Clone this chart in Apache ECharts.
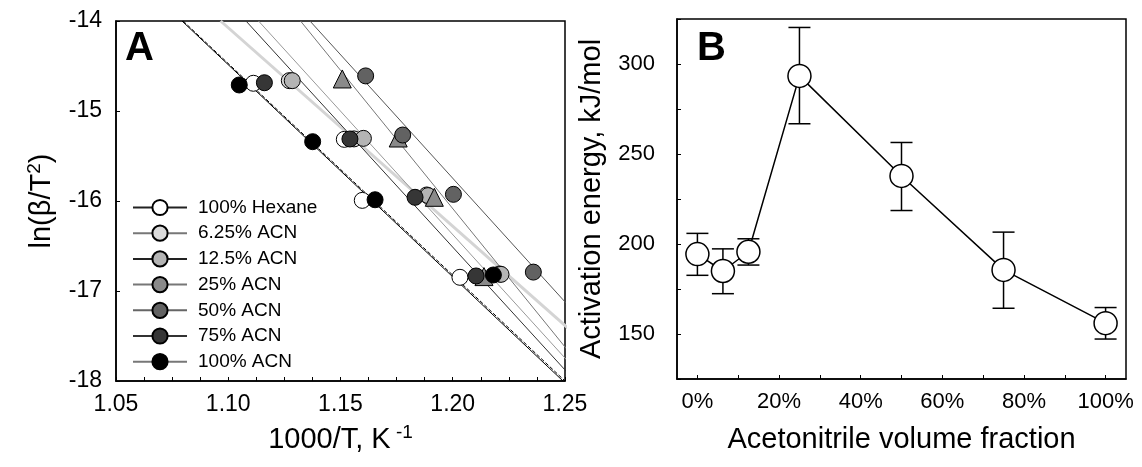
<!DOCTYPE html>
<html><head><meta charset="utf-8">
<script src="https://cdn.jsdelivr.net/npm/echarts@6/dist/echarts.min.js"></script>
<style>html,body{margin:0;padding:0;background:#fff}#c{width:1142px;height:467px}</style>
</head><body><div id="c"></div>
<script>
// ---------- Panel A data: ln(beta/T^2) vs 1000/T ----------
const seriesNames = ['100% Hexane','6.25% ACN','12.5% ACN','25% ACN','50% ACN','75% ACN','100% ACN'];
const hexaneX = [1.1112, 1.1517, 1.1597, 1.2032];
const hexaneY = [-14.692, -15.315, -15.993, -16.848];
const acn625X = [1.1272, 1.1560, 1.1884, 1.2208];
const acn625Y = [-14.663, -15.310, -15.933, -16.811];
const acn125X = [1.1285, 1.1602, 1.1890, 1.2215];
const acn125Y = [-14.663, -15.304, -15.940, -16.815];
const acn25X = [1.1508, 1.1757, 1.1918, 1.2139];
const acn25Y = [-14.644, -15.300, -15.959, -16.840];
const acn50X = [1.1612, 1.1777, 1.2003, 1.2359];
const acn50Y = [-14.610, -15.267, -15.926, -16.790];
const acn75X = [1.1161, 1.1542, 1.1832, 1.2104];
const acn75Y = [-14.686, -15.311, -15.959, -16.833];
const acn100X = [1.1049, 1.1376, 1.1654, 1.2181];
const acn100Y = [-14.711, -15.341, -15.986, -16.822];
// fitted lines: x where each line crosses ln = -14 and ln = -18
const fitTopX    = [1.0966, 1.0794, 1.0799, 1.1079, 1.1135, 1.1322, 1.1364];
const fitBottomX = [1.2780, 1.2491, 1.2500, 1.2545, 1.2593, 1.2623, 1.2820];
const fitYRange = [-14, -18];
const xTickLabelsA = [1.05, 1.10, 1.15, 1.20, 1.25];

// ---------- Panel B data ----------
const fractionX = [0, 0.0625, 0.125, 0.25, 0.5, 0.75, 1.0];
const energy    = [194.4, 185.0, 195.7, 293.4, 237.8, 185.6, 156.0];
const errLow    = [182.6, 172.4, 188.3, 266.8, 218.6, 164.3, 147.2];
const errHigh   = [205.9, 197.3, 202.9, 320.3, 256.4, 206.6, 164.7];
const xTickLabelsB = [0, 0.2, 0.4, 0.6, 0.8, 1.0];
const xMinorTicksB = [0, 0.1, 0.2, 0.3, 0.4, 0.5, 0.6, 0.7, 0.8, 0.9, 1.0];

const FONT = "'Liberation Sans', Arial, sans-serif";
const fills = ['#ffffff','#dadada','#b4b4b4','#8a8a8a','#626262','#363636','#000000'];
const symbols = ['circle','circle','circle','triangle','circle','circle','circle'];
const legendLineColors = ['#222','#777','#222','#777','#666','#333','#777'];
const groupsX = [hexaneX, acn625X, acn125X, acn25X, acn50X, acn75X, acn100X];
const groupsY = [hexaneY, acn625Y, acn125Y, acn25Y, acn50Y, acn75Y, acn100Y];
const fitStyles = [
  {color:'#d4d4d4', width:3, type:'solid'},
  {color:'#000', width:1, type:'solid'},
  {color:'#000', width:1, type:'dashed'},
  {color:'#333', width:1, type:'solid'},
  {color:'#999', width:1, type:'solid'},
  {color:'#777', width:1, type:'solid'},
  {color:'#555', width:1, type:'solid'}
];

const series = [];
fitTopX.forEach((tx, i) => {
  series.push({
    type:'line', xAxisIndex:0, yAxisIndex:0, clip:true, silent:true,
    symbol:'none', z:1,
    lineStyle: fitStyles[i],
    data: [[tx, fitYRange[0]], [fitBottomX[i], fitYRange[1]]]
  });
});
// legend-only series (line + circle icon)
seriesNames.forEach((name, i) => {
  series.push({
    name, type:'line', xAxisIndex:0, yAxisIndex:0, data: [],
    symbol:'circle', symbolSize:15,
    lineStyle:{color: legendLineColors[i], width:1.2},
    itemStyle:{color: fills[i], borderColor:'#000', borderWidth:1}
  });
});
// data points
seriesNames.forEach((name, i) => {
  series.push({
    name: name + ' points', type:'scatter', xAxisIndex:0, yAxisIndex:0,
    symbol: symbols[i], symbolSize: symbols[i] === 'triangle' ? 18 : 16, z:3,
    itemStyle:{color: fills[i], borderColor:'#000', borderWidth:1, opacity:1},
    data: groupsX[i].map((x, k) => [x, groupsY[i][k]])
  });
});
// Panel B
series.push({
  type:'custom', xAxisIndex:1, yAxisIndex:1, z:2,
  renderItem: (params, api) => {
    const x = api.value(0), lo = api.value(1), hi = api.value(2);
    const p1 = api.coord([x, lo]), p2 = api.coord([x, hi]);
    const w = 11;
    const st = {stroke:'#000', lineWidth:1.5};
    return {type:'group', children:[
      {type:'line', shape:{x1:p1[0], y1:p1[1], x2:p2[0], y2:p2[1]}, style:st},
      {type:'line', shape:{x1:p1[0]-w, y1:p1[1], x2:p1[0]+w, y2:p1[1]}, style:st},
      {type:'line', shape:{x1:p2[0]-w, y1:p2[1], x2:p2[0]+w, y2:p2[1]}, style:st}
    ]};
  },
  data: fractionX.map((x, i) => [x, errLow[i], errHigh[i]])
});
series.push({
  type:'line', xAxisIndex:1, yAxisIndex:1, z:3,
  symbol:'circle', symbolSize:23, showSymbol:true,
  lineStyle:{color:'#000', width:1.5},
  itemStyle:{color:'#fff', borderColor:'#000', borderWidth:1.5},
  data: fractionX.map((x, i) => [x, energy[i]])
});

const axisLineStyle = {onZero:false, lineStyle:{color:'#000', width:1.5}};
const chart = echarts.init(document.getElementById('c'), null, {renderer:'canvas'});
chart.setOption({
  animation:false,
  backgroundColor:'#fff',
  textStyle:{fontFamily:FONT},
  title:[
    {text:'A', left:125, top:29, padding:0, textStyle:{fontSize:40, fontWeight:'bold', fontFamily:FONT, color:'#000'}},
    {text:'B', left:697, top:29, padding:0, textStyle:{fontSize:40, fontWeight:'bold', fontFamily:FONT, color:'#000'}}
  ],
  legend:{
    orient:'vertical', left:132, top:198, itemWidth:54, itemHeight:19, itemGap:6.7,
    selectedMode:false, padding:0,
    textStyle:{fontSize:19, fontFamily:FONT, color:'#000', padding:[0,0,0,6]},
    data: seriesNames.slice()
  },
  grid:[
    {left:116, top:21, width:449, height:360, show:true, borderColor:'#000', borderWidth:1.5, backgroundColor:'transparent', outerBoundsMode:'none'},
    {left:677, top:19, width:449, height:360, show:true, borderColor:'#000', borderWidth:1.5, backgroundColor:'transparent', outerBoundsMode:'none'}
  ],
  xAxis:[
    {type:'value', gridIndex:0, min:1.05, max:1.25, interval:0.0125,
     axisLine:axisLineStyle, splitLine:{show:false},
     axisTick:{inside:true, length:4, lineStyle:{color:'#000', width:1}},
     axisLabel:{fontSize:23, color:'#000', fontFamily:FONT, margin:12,
       formatter: v => xTickLabelsA.some(t => Math.abs(t - v) < 1e-6) ? v.toFixed(2) : ''},
     name:'1000/T, K{sup| -1}', nameLocation:'middle', nameGap:42,
     nameTextStyle:{fontSize:29, color:'#000', fontFamily:FONT,
       rich:{sup:{fontSize:19, verticalAlign:'top', fontFamily:FONT, color:'#000', padding:[0,0,14,0]}}}},
    {type:'value', gridIndex:1, min:-0.05, max:1.05,
     axisLine:axisLineStyle, splitLine:{show:false},
     axisTick:{inside:true, length:4, customValues:xMinorTicksB, lineStyle:{color:'#000', width:1}},
     axisLabel:{fontSize:22, color:'#000', fontFamily:FONT, margin:12, customValues:xTickLabelsB,
       formatter: v => Math.round(v * 100) + '%'},
     name:'Acetonitrile volume fraction', nameLocation:'middle', nameGap:46,
     nameTextStyle:{fontSize:29, color:'#000', fontFamily:FONT}}
  ],
  yAxis:[
    {type:'value', gridIndex:0, min:-18, max:-14, interval:1,
     axisLine:axisLineStyle, splitLine:{show:false},
     axisTick:{inside:true, length:4, lineStyle:{color:'#000'}},
     axisLabel:{fontSize:23, color:'#000', fontFamily:FONT, margin:14},
     name:'ln(β/T{sup|2})', nameLocation:'middle', nameGap:58,
     nameTextStyle:{fontSize:29, color:'#000', fontFamily:FONT,
       rich:{sup:{fontSize:19, verticalAlign:'top', fontFamily:FONT, color:'#000', padding:[0,0,14,0]}}}},
    {type:'value', gridIndex:1, min:125, max:325, interval:25,
     axisLine:axisLineStyle, splitLine:{show:false},
     axisTick:{inside:true, length:4, lineStyle:{color:'#000'}},
     axisLabel:{fontSize:22, color:'#000', fontFamily:FONT, margin:22,
       formatter: v => (v % 50 === 0 ? String(v) : '')},
     name:'Activation energy, kJ/mol', nameLocation:'middle', nameGap:71,
     nameTextStyle:{fontSize:29, color:'#000', fontFamily:FONT}}
  ],
  series
});
</script></body></html>
